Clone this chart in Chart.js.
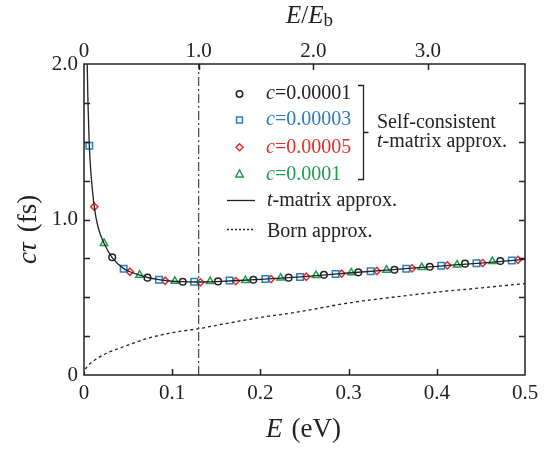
<!DOCTYPE html>
<html>
<head>
<meta charset="utf-8">
<script src="https://cdn.jsdelivr.net/npm/chart.js@4.4.0/dist/chart.umd.min.js"></script>
<style>
  body { margin: 0; background: #fff; }
  #wrap { width: 555px; height: 450px; }
</style>
</head>
<body>
<div id="wrap"><canvas id="tauChart" width="555" height="450"></canvas></div>
<script>
// E (eV) and c*tau (fs)
const tmE = [0.0033, 0.0045, 0.006, 0.008, 0.0117, 0.016, 0.0227, 0.0317, 0.045, 0.052, 0.063, 0.072, 0.085, 0.1, 0.115, 0.13, 0.15, 0.17, 0.2, 0.25, 0.3, 0.35, 0.4, 0.45, 0.5];
const tmV = [2.1, 1.75, 1.475, 1.29, 1.08, 0.95, 0.847, 0.757, 0.684, 0.664, 0.643, 0.627, 0.613, 0.603, 0.6, 0.598, 0.601, 0.606, 0.615, 0.633, 0.656, 0.678, 0.699, 0.72, 0.743];

const bornE = [0, 0.001, 0.004, 0.01, 0.025, 0.045, 0.07, 0.1, 0.13, 0.165, 0.2, 0.24, 0.3, 0.35, 0.4, 0.45, 0.5];
const bornV = [0, 0.028, 0.056, 0.087, 0.138, 0.182, 0.232, 0.272, 0.298, 0.335, 0.37, 0.403, 0.463, 0.5, 0.533, 0.56, 0.588];

const c1E = [0.032, 0.072, 0.112, 0.152, 0.192, 0.232, 0.272, 0.311, 0.352, 0.392, 0.432, 0.472];
const c1V = [0.757, 0.626, 0.6, 0.602, 0.613, 0.626, 0.645, 0.66, 0.677, 0.696, 0.716, 0.733];
const c3E = [0.006, 0.045, 0.085, 0.125, 0.165, 0.2056, 0.245, 0.2853, 0.325, 0.3654, 0.405, 0.445, 0.485];
const c3V = [1.475, 0.684, 0.613, 0.6, 0.608, 0.617, 0.63, 0.65, 0.667, 0.684, 0.703, 0.718, 0.737];
const c5E = [0.0117, 0.052, 0.092, 0.132, 0.172, 0.212, 0.252, 0.292, 0.332, 0.372, 0.412, 0.452, 0.492];
const c5V = [1.082, 0.664, 0.606, 0.596, 0.604, 0.617, 0.632, 0.652, 0.669, 0.686, 0.705, 0.72, 0.74];
const c10E = [0.0227, 0.063, 0.103, 0.143, 0.183, 0.223, 0.263, 0.303, 0.343, 0.383, 0.423, 0.463];
const c10V = [0.847, 0.643, 0.604, 0.602, 0.608, 0.624, 0.641, 0.658, 0.675, 0.692, 0.709, 0.731];

const Eb = 0.13;
const xTicks = [0.1, 0.2, 0.3, 0.4];
const x2Ticks = [1, 2, 3];
const yTicks = [0.25, 0.5, 0.75, 1, 1.25, 1.5, 1.75];

const BLUE = "#2a7cc4";
const RED = "#ee2a2a";
const GREEN = "#1f9d4f";
const INK = "#222";
const SERIF = '"Liberation Serif", "Times New Roman", serif';

function pts(xs, ys) {
  return xs.map((x, i) => ({ x: x, y: ys[i] }));
}

function rich(ctx, parts, x, y, size, color) {
  let cx = x;
  ctx.fillStyle = color;
  parts.forEach((p) => {
    ctx.font = (p.i ? "italic " : "") + (p.s || size) + "px " + SERIF;
    ctx.fillText(p.t, cx, y + (p.dy || 0));
    cx += ctx.measureText(p.t).width + (p.g || 0);
  });
  return cx;
}

const framePlugin = {
  id: "frame",
  afterDatasetsDraw(chart) {
    const ctx = chart.ctx;
    const ca = chart.chartArea;
    const x = chart.scales.x, x2 = chart.scales.x2, y = chart.scales.y;
    ctx.save();
    ctx.strokeStyle = INK;
    ctx.lineWidth = 1.5;
    ctx.strokeRect(ca.left, ca.top, ca.right - ca.left, ca.bottom - ca.top);
    ctx.beginPath();
    yTicks.forEach((v) => {
      const py = Math.round(y.getPixelForValue(v)) + 0.5;
      ctx.moveTo(ca.left, py); ctx.lineTo(ca.left + 6, py);
      ctx.moveTo(ca.right, py); ctx.lineTo(ca.right - 6, py);
    });
    xTicks.forEach((v) => {
      const px = Math.round(x.getPixelForValue(v)) + 0.5;
      ctx.moveTo(px, ca.bottom); ctx.lineTo(px, ca.bottom - 6);
    });
    x2Ticks.forEach((v) => {
      const px = Math.round(x2.getPixelForValue(v)) + 0.5;
      ctx.moveTo(px, ca.top); ctx.lineTo(px, ca.top + 6);
    });
    ctx.stroke();
    ctx.restore();
  },
  afterDraw(chart) {
    const ctx = chart.ctx;
    ctx.save();
    ctx.textBaseline = "alphabetic";
    ctx.textAlign = "left";

    // axis titles
    rich(ctx, [{ t: "E", i: true }, { t: "/" }, { t: "E", i: true }, { t: "b", s: 19, dy: 3 }], 286, 23, 25, INK);
    rich(ctx, [{ t: "E", i: true, g: 9 }, { t: "(eV)" }], 266, 437, 27, INK);
    ctx.save();
    ctx.translate(36, 264);
    ctx.rotate(-Math.PI / 2);
    rich(ctx, [{ t: "c", i: true }, { t: "\u03c4", i: true, g: 10 }, { t: "(fs)" }], 0, 0, 27, INK);
    ctx.restore();

    // legend markers
    ctx.lineWidth = 1.5;
    ctx.fillStyle = "#fff";
    ctx.strokeStyle = INK;
    ctx.beginPath(); ctx.arc(239.5, 94, 3.2, 0, Math.PI * 2); ctx.fill(); ctx.stroke();
    ctx.strokeStyle = BLUE;
    ctx.fillRect(236.5, 117, 6, 6); ctx.strokeRect(236.5, 117, 6, 6);
    ctx.strokeStyle = RED;
    ctx.beginPath(); ctx.moveTo(239.5, 143.8); ctx.lineTo(243, 147.3); ctx.lineTo(239.5, 150.8); ctx.lineTo(236, 147.3); ctx.closePath(); ctx.fill(); ctx.stroke();
    ctx.strokeStyle = GREEN;
    ctx.beginPath(); ctx.moveTo(239.5, 170); ctx.lineTo(243.3, 177); ctx.lineTo(235.7, 177); ctx.closePath(); ctx.fill(); ctx.stroke();

    rich(ctx, [{ t: "c", i: true }, { t: "=0.00001" }], 266, 98.5, 20, INK);
    rich(ctx, [{ t: "c", i: true }, { t: "=0.00003" }], 266, 125, 20, BLUE);
    rich(ctx, [{ t: "c", i: true }, { t: "=0.00005" }], 266, 152.5, 20, RED);
    rich(ctx, [{ t: "c", i: true }, { t: "=0.0001" }], 266, 179.5, 20, GREEN);

    // bracket
    ctx.strokeStyle = INK;
    ctx.lineWidth = 1.3;
    ctx.beginPath();
    ctx.moveTo(358, 85.5); ctx.lineTo(363.5, 85.5); ctx.lineTo(363.5, 179.5); ctx.lineTo(358, 179.5);
    ctx.moveTo(363.5, 132.5); ctx.lineTo(368.5, 132.5);
    ctx.stroke();
    rich(ctx, [{ t: "Self-consistent" }], 377, 127.5, 20, INK);
    rich(ctx, [{ t: "t", i: true }, { t: "-matrix approx." }], 377, 147, 20, INK);

    // line legend
    ctx.beginPath();
    ctx.moveTo(227, 200.5); ctx.lineTo(255, 200.5);
    ctx.stroke();
    ctx.setLineDash([2, 2]);
    ctx.beginPath();
    ctx.moveTo(227, 229.5); ctx.lineTo(255, 229.5);
    ctx.stroke();
    ctx.setLineDash([]);
    rich(ctx, [{ t: "t", i: true }, { t: "-matrix approx." }], 267, 206, 20, INK);
    rich(ctx, [{ t: "Born approx." }], 267, 236.5, 20, INK);
    ctx.restore();
  },
};

const tickFont = { family: SERIF, size: 21 };
const markerBase = { showLine: false, pointBorderWidth: 1.5, pointBackgroundColor: "#fff" };

new Chart(document.getElementById("tauChart"), {
  type: "scatter",
  data: {
    datasets: [
      {
        label: "E_b",
        data: [{ x: Eb, y: 0 }, { x: Eb, y: 2 }],
        showLine: true,
        borderColor: "#444",
        borderWidth: 1.2,
        borderDash: [9, 3, 2, 3],
        pointRadius: 0,
      },
      {
        label: "Born approx.",
        data: pts(bornE, bornV),
        showLine: true,
        borderColor: INK,
        borderWidth: 1.3,
        borderDash: [3, 3],
        cubicInterpolationMode: "monotone",
        pointRadius: 0,
      },
      {
        label: "t-matrix approx.",
        data: pts(tmE, tmV),
        showLine: true,
        borderColor: INK,
        borderWidth: 1.3,
        cubicInterpolationMode: "monotone",
        pointRadius: 0,
      },
      Object.assign({ label: "c=0.00001", data: pts(c1E, c1V), pointStyle: "circle", pointRadius: 3.3, pointBorderColor: INK }, markerBase),
      Object.assign({ label: "c=0.00003", data: pts(c3E, c3V), pointStyle: "rect", pointRadius: 4.6, pointBorderColor: BLUE }, markerBase),
      Object.assign({ label: "c=0.00005", data: pts(c5E, c5V), pointStyle: "rectRot", pointRadius: 3.6, pointBorderColor: RED }, markerBase),
      Object.assign({ label: "c=0.0001", data: pts(c10E, c10V), pointStyle: "triangle", pointRadius: 4.3, pointBorderColor: GREEN }, markerBase),
    ],
  },
  options: {
    responsive: false,
    animation: false,
    layout: { padding: { left: 0, right: 30, top: 0, bottom: 0 } },
    plugins: { legend: { display: false }, tooltip: { enabled: false } },
    scales: {
      x: {
        type: "linear",
        position: "bottom",
        min: 0,
        max: 0.5,
        grid: { display: false, drawTicks: false },
        border: { display: false },
        ticks: {
          stepSize: 0.1,
          padding: 6,
          maxRotation: 0,
          color: INK,
          font: tickFont,
          callback: (v) => (v === 0 ? "0" : v.toFixed(1)),
        },
        afterFit: (s) => { s.height = 75; },
      },
      x2: {
        type: "linear",
        position: "top",
        min: 0,
        max: 0.5 / Eb,
        grid: { display: false, drawTicks: false },
        border: { display: false },
        ticks: {
          stepSize: 1,
          includeBounds: false,
          padding: 0,
          maxRotation: 0,
          color: INK,
          font: tickFont,
          callback: (v) => (Number.isInteger(v) ? (v === 0 ? "0" : v.toFixed(1)) : ""),
        },
        afterFit: (s) => { s.height = 64; },
      },
      y: {
        type: "linear",
        min: 0,
        max: 2,
        grid: { display: false, drawTicks: false },
        border: { display: false },
        ticks: {
          stepSize: 0.25,
          padding: 6,
          color: INK,
          font: tickFont,
          callback: (v) => (v === 0 ? "0" : Number.isInteger(v) ? v.toFixed(1) : ""),
        },
        afterFit: (s) => { s.width = 84; },
      },
    },
  },
  plugins: [framePlugin],
});
</script>
</body>
</html>
